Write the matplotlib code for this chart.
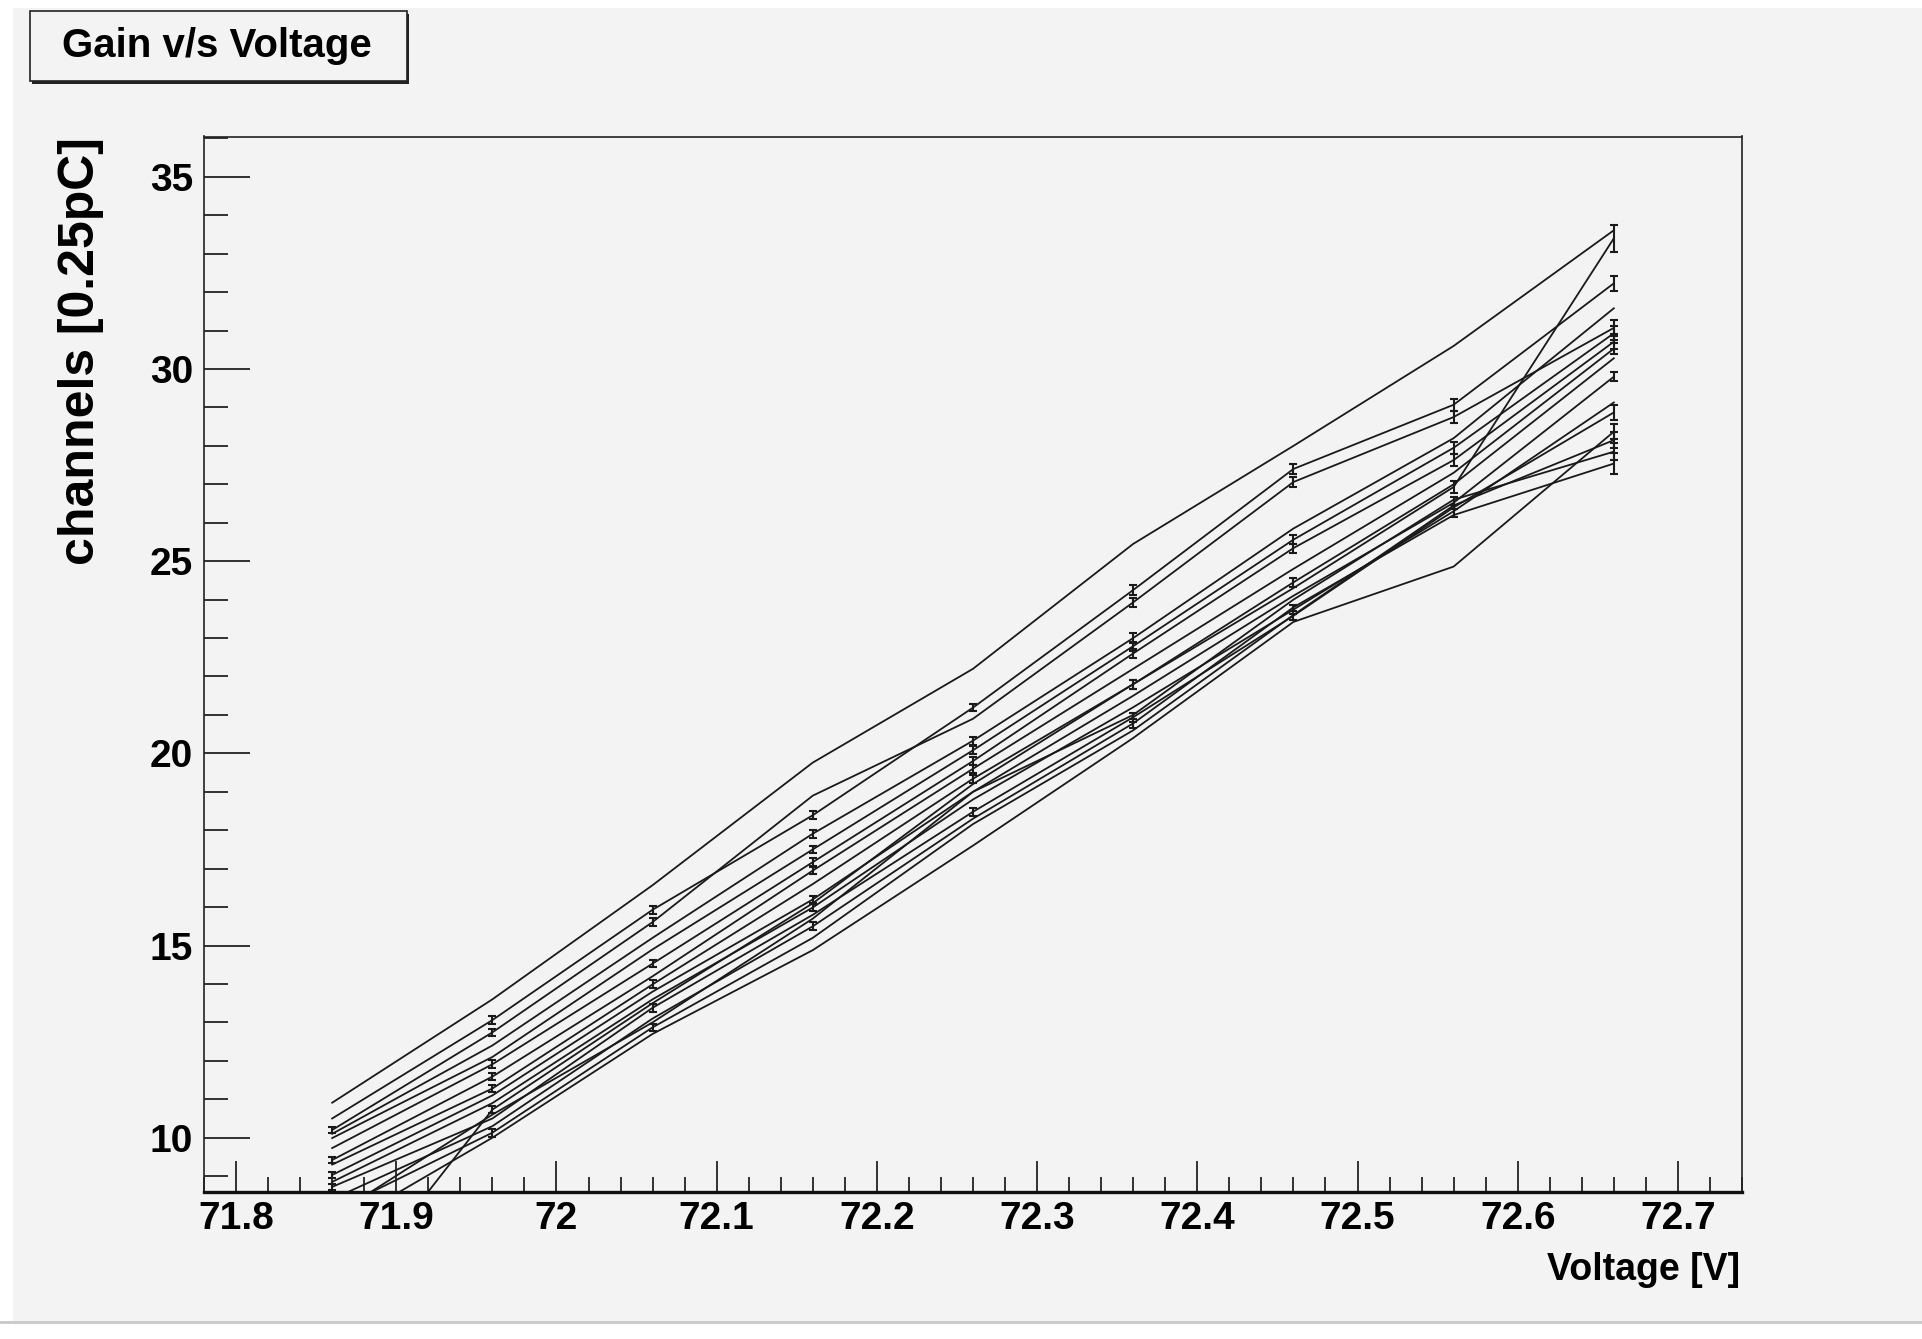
import matplotlib
matplotlib.use('Agg')
import matplotlib.pyplot as plt
from matplotlib.patches import Rectangle
from matplotlib.ticker import MultipleLocator, FuncFormatter

# bias voltage steps [V]
voltage = [71.86, 71.96, 72.06, 72.16, 72.26, 72.36, 72.46, 72.56, 72.66]

# gain per channel [channels of 0.25 pC]
ch01 = [10.91, 13.60, 16.57, 19.76, 22.20, 25.45, 28.00, 30.60, 33.61]
ch02 = [10.50, 13.06, 15.93, 18.39, 21.19, 24.25, 27.40, 29.07, 32.23]
ch03 = [10.20, 12.74, 15.61, 18.90, 20.90, 23.93, 27.06, 28.75, 31.07]
ch04 = [10.10, 12.40, 15.20, 17.91, 20.33, 23.00, 25.85, 28.20, 31.58]
ch05 = [9.99, 12.10, 14.90, 17.50, 20.08, 22.79, 25.56, 27.95, 30.93]
ch06 = [9.73, 11.91, 14.53, 17.17, 19.80, 22.60, 25.34, 27.63, 30.71]
ch07 = [9.42, 11.59, 14.20, 16.95, 19.60, 22.20, 24.80, 27.30, 30.53]
ch08 = [9.30, 11.28, 13.99, 16.60, 19.34, 21.80, 24.45, 27.00, 30.28]
ch09 = [9.03, 11.10, 13.80, 16.20, 19.00, 21.50, 24.10, 26.52, 29.80]
ch10 = [8.85, 10.90, 13.60, 15.99, 18.80, 21.20, 23.74, 26.30, 29.13]
ch11 = [8.72, 10.50, 13.38, 15.80, 18.48, 20.94, 23.58, 26.40, 28.87]
ch12 = [8.40, 10.30, 13.10, 15.50, 18.30, 20.78, 23.80, 26.20, 27.54]
ch13 = [8.08, 10.13, 12.87, 15.20, 18.16, 20.60, 23.60, 26.45, 28.15]
ch14 = [7.95, 10.60, 13.00, 15.70, 19.00, 21.00, 24.00, 26.60, 27.85]
ch15 = [5.40, 10.73, 13.50, 16.10, 19.20, 21.80, 24.30, 26.93, 33.40]
ch16 = [7.57, 10.00, 12.70, 14.88, 17.60, 20.40, 23.42, 24.86, 28.37]

# errors on the gain (0 = smaller than the marker, not drawn)
err01 = [0, 0, 0, 0, 0, 0, 0, 0, 0]
err02 = [0, 0.10, 0.10, 0.10, 0.10, 0.12, 0.12, 0.15, 0.19]
err03 = [0.08, 0.10, 0.10, 0, 0, 0.12, 0.12, 0.15, 0.20]
err04 = [0, 0, 0, 0.10, 0.10, 0.12, 0, 0, 0]
err05 = [0, 0, 0, 0.10, 0.10, 0.12, 0.12, 0.15, 0.18]
err06 = [0, 0.10, 0.10, 0.10, 0.10, 0.12, 0.12, 0.15, 0.20]
err07 = [0.08, 0.10, 0, 0.10, 0.10, 0, 0, 0, 0.15]
err08 = [0, 0.10, 0.10, 0, 0.10, 0.12, 0.12, 0, 0]
err09 = [0.08, 0, 0, 0.10, 0, 0, 0, 0.15, 0.12]
err10 = [0, 0, 0, 0.10, 0, 0, 0.12, 0.15, 0]
err11 = [0.08, 0, 0.10, 0, 0.10, 0.12, 0.12, 0, 0.20]
err12 = [0, 0, 0, 0.10, 0, 0.12, 0, 0, 0.28]
err13 = [0, 0.10, 0.10, 0, 0, 0, 0, 0, 0.20]
err14 = [0, 0, 0, 0, 0, 0, 0, 0, 0.22]
err15 = [0, 0.10, 0, 0, 0, 0.12, 0, 0.15, 0.36]
err16 = [0, 0, 0, 0, 0, 0, 0, 0, 0.20]

channels = [ch01, ch02, ch03, ch04, ch05, ch06, ch07, ch08,
            ch09, ch10, ch11, ch12, ch13, ch14, ch15, ch16]
errors = [err01, err02, err03, err04, err05, err06, err07, err08,
          err09, err10, err11, err12, err13, err14, err15, err16]

BG = '#f3f3f3'
FONT = ['Liberation Sans', 'DejaVu Sans']
W, H = 1922, 1339

fig = plt.figure(figsize=(W / 100., H / 100.), dpi=100, facecolor='white')
# canvas pad (ROOT grey), white strip at top/left and below
fig.patches.append(Rectangle((13. / W, 1 - 1321. / H), 1 - 13. / W, (1321. - 8.) / H,
                             transform=fig.transFigure, facecolor=BG,
                             edgecolor='none', zorder=-10))
fig.add_artist(plt.Line2D([0, 1], [1 - 1322. / H] * 2, color='#c8c8c8', lw=2,
                          zorder=-5))

ax = fig.add_axes([204. / W, 1 - 1191.5 / H, (1742. - 204.) / W, (1191.5 - 136.5) / H])
ax.set_facecolor(BG)
ax.set_zorder(5)

for g, e in zip(channels, errors):
    ax.plot(voltage, g, color='#1a1a1a', lw=1.3)
    xs = [v for v, s in zip(voltage, e) if s > 0]
    ys = [y for y, s in zip(g, e) if s > 0]
    es = [s for s in e if s > 0]
    if xs:
        ax.errorbar(xs, ys, yerr=es, fmt='none', ecolor='#1a1a1a',
                    elinewidth=1.5, capsize=2.6, capthick=1.5)

ax.set_xlim(71.78, 72.74)
ax.set_ylim(8.6, 36.05)

ax.xaxis.set_major_locator(MultipleLocator(0.1))
ax.xaxis.set_minor_locator(MultipleLocator(0.02))
ax.yaxis.set_major_locator(MultipleLocator(5))
ax.yaxis.set_minor_locator(MultipleLocator(1))
ax.xaxis.set_major_formatter(FuncFormatter(lambda v, p: ('%.1f' % v).rstrip('0').rstrip('.')))

ax.tick_params(axis='x', which='major', direction='in', length=22, width=1.3,
               pad=7, color='#222222')
ax.tick_params(axis='x', which='minor', direction='in', length=11, width=1.3,
               color='#222222')
ax.tick_params(axis='y', which='major', direction='in', length=33, width=1.3,
               pad=8, color='#222222')
ax.tick_params(axis='y', which='minor', direction='in', length=17, width=1.3,
               color='#222222')
for lab in ax.get_xticklabels() + ax.get_yticklabels():
    lab.set_family(FONT)
    lab.set_fontweight('bold')
    lab.set_fontsize(28)

for s in ['left', 'top', 'right']:
    ax.spines[s].set_linewidth(1.2)
    ax.spines[s].set_color('#222222')
ax.spines['bottom'].set_linewidth(2.4)
ax.spines['bottom'].set_color('#111111')

# axis titles, ROOT style (right / top aligned)
fig.text(1740. / W, 1 - 1252. / H, 'Voltage [V]', ha='right', va='top',
         family=FONT, fontweight='bold', fontsize=27)
fig.text(81. / W, 1 - 137. / H, 'channels [0.25pC]', rotation=90, ha='center',
         va='top', family=FONT, fontweight='bold', fontsize=36)

# title box with shadow
fig.patches.append(Rectangle((32. / W, 1 - 84. / H), 377. / W, 70. / H,
                             transform=fig.transFigure, facecolor='#222222',
                             edgecolor='none', zorder=1))
fig.patches.append(Rectangle((30. / W, 1 - 81. / H), 377. / W, 70. / H,
                             transform=fig.transFigure, facecolor=BG,
                             edgecolor='#222222', lw=1.2, zorder=2))
fig.text(217. / W, 1 - 57. / H, 'Gain v/s Voltage', ha='center', va='baseline',
         family=FONT, fontweight='bold', fontsize=29, zorder=3)

fig.savefig('out.png', dpi=100, facecolor='white')
